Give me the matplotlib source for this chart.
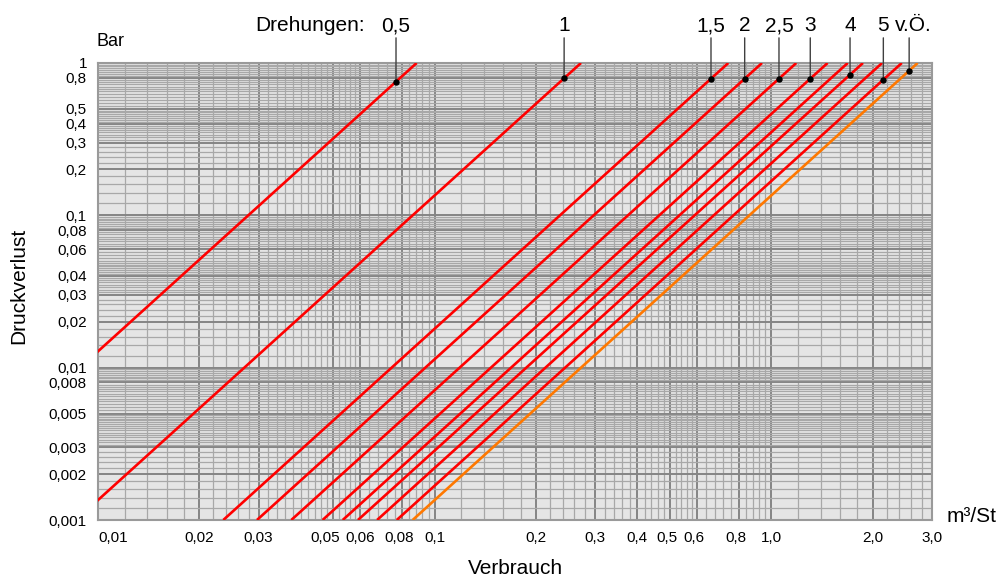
import numpy as np
import matplotlib
matplotlib.use('Agg')
import matplotlib.pyplot as plt
import matplotlib.transforms as mtransforms
from matplotlib.ticker import FixedLocator, FixedFormatter

plt.rcParams['font.family'] = ['Liberation Sans', 'DejaVu Sans']

# flow (m³/h) at which each curve reaches 1 bar -> dp = (Q / kv)^2
kv_values = [0.0884, 0.272, 0.745, 0.938, 1.186, 1.469, 1.686, 1.871, 2.133, 2.44, 2.72]
turn_labels = ['0,5', '1', '1,5', '2', '2,5', '3', '', '4', '', '5', 'v.Ö.']
# pressure where the label marker sits on the curve
marker_pressure = [0.754, 0.794, 0.789, 0.789, 0.789, 0.789, None, 0.838, None, 0.777, 0.89]
line_colors = ['#ff0000'] * 10 + ['#ff7800']

x_ticks = [0.01, 0.02, 0.03, 0.05, 0.06, 0.08, 0.1, 0.2, 0.3, 0.4, 0.5, 0.6, 0.8, 1.0, 2.0, 3.0]
x_tick_labels = ['0,01', '0,02', '0,03', '0,05', '0,06', '0,08', '0,1', '0,2', '0,3',
                 '0,4', '0,5', '0,6', '0,8', '1,0', '2,0', '3,0']
y_ticks = [1, 0.8, 0.5, 0.4, 0.3, 0.2, 0.1, 0.08, 0.06, 0.04, 0.03, 0.02,
           0.01, 0.008, 0.005, 0.003, 0.002, 0.001]
y_tick_labels = ['1', '0,8', '0,5', '0,4', '0,3', '0,2', '0,1', '0,08', '0,06', '0,04',
                 '0,03', '0,02', '0,01', '0,008', '0,005', '0,003', '0,002', '0,001']


def minor_lines(segments, decades, majors):
    vals = []
    for d in decades:
        for start, stop, step in segments:
            for m in np.arange(start, stop - 1e-9, step):
                vals.append(round(m * d, 8))
    majors = [round(v, 8) for v in majors]
    return [v for v in vals if not any(abs(v - mj) < 1e-9 for mj in majors)]


x_minor = minor_lines([(1, 3, 0.2), (3, 6, 0.2), (6, 10, 0.4)], [0.01, 0.1, 1.0], x_ticks)
x_minor = [v for v in x_minor if v < 3.0]
y_minor = minor_lines([(1, 3, 0.2), (3, 5, 0.125), (5, 10, 0.25)], [0.001, 0.01, 0.1], y_ticks)

fig = plt.figure(figsize=(10, 5.77), dpi=100)
fig.subplots_adjust(left=0.098, right=0.932, bottom=1 - 520 / 577, top=1 - 63 / 577)
ax = fig.add_subplot(111)
ax.set_facecolor('#e5e5e5')
ax.set_xscale('log')
ax.set_yscale('log')
ax.set_xlim(0.01, 3.0)
ax.set_ylim(0.001, 1)

ax.xaxis.set_major_locator(FixedLocator(x_ticks))
ax.xaxis.set_major_formatter(FixedFormatter(x_tick_labels))
ax.yaxis.set_major_locator(FixedLocator(y_ticks))
ax.yaxis.set_major_formatter(FixedFormatter(y_tick_labels))
ax.xaxis.set_minor_locator(FixedLocator(x_minor))
ax.yaxis.set_minor_locator(FixedLocator(y_minor))
ax.xaxis.set_minor_formatter(FixedFormatter([''] * len(x_minor)))
ax.yaxis.set_minor_formatter(FixedFormatter([''] * len(y_minor)))
ax.tick_params(which='both', length=0)
ax.tick_params(axis='x', pad=8, labelsize=11)
ax.tick_params(axis='y', pad=8, labelsize=11)

fig.canvas.draw()
xlabels = ax.xaxis.get_majorticklabels()
xlabels[0].set_horizontalalignment('left')
# nudge crowded labels a little to the left, as on the original sheet
for idx, dx in [(3, -8), (5, -3), (10, -3), (11, -3), (12, -3)]:
    lbl = xlabels[idx]
    lbl.set_transform(lbl.get_transform() + mtransforms.ScaledTranslation(dx / 100, 0, fig.dpi_scale_trans))

ax.grid(which='minor', color='#a8a8a8', lw=0.9)
ax.grid(which='major', color='#858585', lw=1.4)
ax.set_axisbelow(True)
for sp in ax.spines.values():
    sp.set_color('#9a9a9a')
    sp.set_linewidth(1.5)

for kv, col in zip(kv_values, line_colors):
    q = np.array([kv * np.sqrt(0.001), kv])
    ax.plot(q, (q / kv) ** 2, color=col, lw=1.9, solid_capstyle='butt', zorder=3)

trans = ax.get_xaxis_transform()
for kv, lab, p in zip(kv_values, turn_labels, marker_pressure):
    if not lab:
        continue
    xq = kv * np.sqrt(p)
    ax.plot([xq], [p], 'o', color='black', ms=3.6, zorder=4)
    ax.annotate('', xy=(xq, p), xycoords='data', xytext=(xq, 1.055), textcoords=trans,
                arrowprops=dict(arrowstyle='-', color='#404040', lw=1, shrinkA=0, shrinkB=0),
                annotation_clip=False)
    shift = 4 if lab == 'v.Ö.' else 0
    ax.annotate(lab, xy=(xq, 1.07), xycoords=trans, xytext=(shift, 0), textcoords='offset pixels',
                ha='center', va='baseline', fontsize=15, annotation_clip=False)

fig.text(0.365, 1 - 31 / 577, 'Drehungen:', ha='right', va='baseline', fontsize=15)
fig.text(0.097, 1 - 46 / 577, 'Bar', ha='left', va='baseline', fontsize=13)
fig.text(0.947, 1 - 522 / 577, 'm³/St', ha='left', va='baseline', fontsize=15)
fig.text(0.515, 1 - 574 / 577, 'Verbrauch', ha='center', va='baseline', fontsize=15)
fig.text(0.019, 1 - 286 / 577, 'Druckverlust', ha='center', va='center', rotation=90, fontsize=15)

fig.savefig('out.png', dpi=100)
